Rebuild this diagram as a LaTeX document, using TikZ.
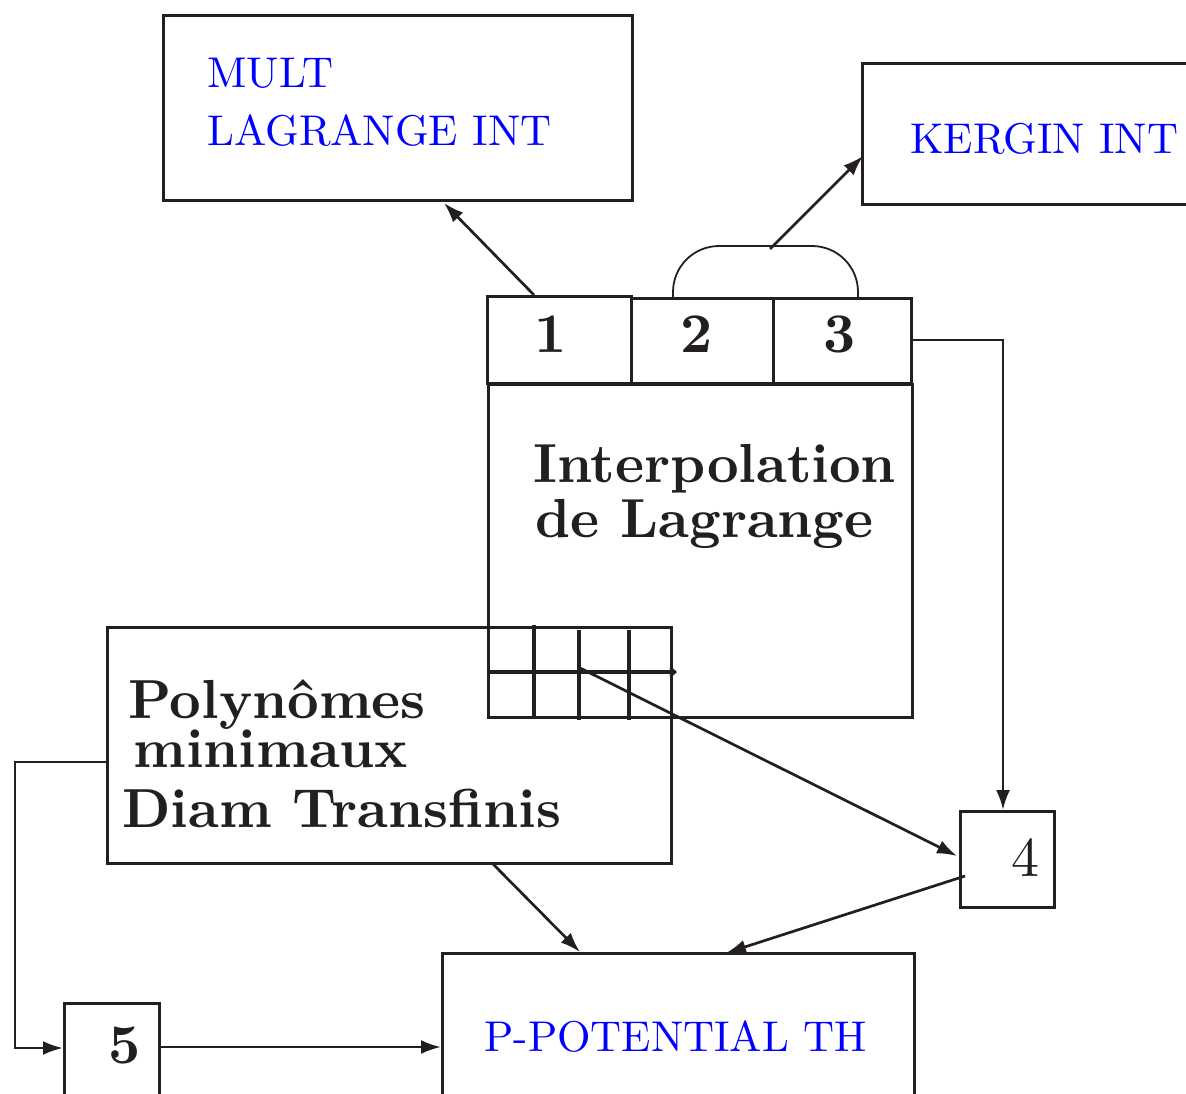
\documentclass[tikz,border=0pt]{standalone}
\usepackage{fontspec}
\setmainfont{lmroman10}[Extension=.otf,UprightFont=*-regular,BoldFont=*-bold]
\usetikzlibrary{arrows.meta,calc}
\definecolor{ink}{RGB}{35,31,32}
\definecolor{lbl}{RGB}{0,0,255}

\begin{document}
\begin{tikzpicture}[x=0.5pt,y=-0.5pt,
  box/.style={draw=ink,line width=1.65pt,rectangle,inner sep=0pt,anchor=north west},
  conn/.style={draw=ink,line width=1.35pt,-{Latex[length=10pt,width=7pt]}},
  gridline/.style={draw=ink,line width=1.6pt},
  bluetext/.style={text=lbl,anchor=base west,inner sep=0pt,font=\fontsize{21.5}{26}\selectfont},
  boldtext/.style={text=ink,anchor=base west,inner sep=0pt,font=\fontsize{27.5}{32}\selectfont\bfseries},
  numtext/.style={text=ink,anchor=base,inner sep=0pt,font=\fontsize{28}{32}\selectfont\bfseries},
]
\useasboundingbox (0,0) rectangle (1186,1093);

% ---- boxes ----
\node[box,minimum width=234.5pt,minimum height=92.5pt] (mult) at (162,14) {};
\node[box,minimum width=169.5pt,minimum height=70.5pt] (kergin) at (861,62) {};
\node[box,minimum width=212pt,minimum height=166.5pt] (lag) at (487,383) {};
\node[box,minimum width=72pt,minimum height=43.5pt] (c1) at (486,295) {};
\node[box,minimum width=71pt,minimum height=42.5pt] (c2) at (630,297) {};
\node[box,minimum width=69pt,minimum height=42.5pt] (c3) at (772,297) {};
\node[box,minimum width=282pt,minimum height=118pt] (poly) at (106,626) {};
\node[box,minimum width=47pt,minimum height=48pt] (b4) at (959,810) {};
\node[box,minimum width=47.5pt,minimum height=54pt] (b5) at (63,1002) {};
\node[box,minimum width=236pt,minimum height=79pt] (ppot) at (441,952) {};

% ---- labels ----
\node[bluetext] (t1) at (207,87) {MULT};
\node[bluetext] (t2) at (207,145) {LAGRANGE INT};
\node[bluetext] (t3) at (910,153) {KERGIN INT};
\node[bluetext] (t4) at (484,1051) {P-POTENTIAL TH};
\node[boldtext] (t5) at (533,482) {Interpolation};
\node[boldtext] (t6) at (535,537) {de Lagrange};
\node[boldtext] (t7) at (128,718) {Polynômes};
\node[boldtext] (t8) at (133,767) {minimaux};
\node[boldtext] (t9) at (122,827) {Diam Transfinis};
\node[numtext] (n1) at (551,352) {1};
\node[numtext] (n2) at (697,352) {2};
\node[numtext] (n3) at (840,352) {3};
\node[numtext,font=\fontsize{28}{32}\selectfont] (n4) at (1025,876) {4};
\node[numtext] (n5) at (125,1063) {5};

% ---- grid inside the overlap ----
\draw[gridline] (534,625) -- (534,717);
\draw[gridline] (579,630) -- (579,720);
\draw[gridline] (629,630) -- (629,720);
\draw[gridline,-{Straight Barb[length=2.5pt,width=4.5pt,line width=1.2pt]}] (487,672) -- (677,672);

% ---- bracket over cells 2 and 3 ----
\coordinate (arcL) at (673,297);
\coordinate (arcR) at (858,297);
\coordinate (arcTop) at (770,249);
\draw[ink,line width=0.9pt,rounded corners=23pt] (arcL) -- (673,246) -- (858,246) -- (arcR);

% ---- connector ends ----
\coordinate (c1top) at (534,295);
\coordinate (multin) at (444,203);
\coordinate (kerginin) at (863,156);
\coordinate (c3out) at (910,340);
\coordinate (b4top) at (1003,810);
\coordinate (gridpt) at (580,668);
\coordinate (b4in) at (957,856);
\coordinate (b4out) at (965,876);
\coordinate (ppotinA) at (726,953);
\coordinate (polyout) at (492,863);
\coordinate (ppotinB) at (580,952);
\coordinate (polyleft) at (106,762);
\coordinate (b5in) at (63,1048);
\coordinate (b5out) at (158,1047);
\coordinate (ppotinC) at (441,1047);

% ---- connectors ----
\draw[conn] (c1top) -- (multin);
\draw[conn] (arcTop) -- (kerginin);
\draw[conn] (c3out) -| (b4top);
\draw[conn] (gridpt) -- (b4in);
\draw[conn] (b4out) -- (ppotinA);
\draw[conn] (polyout) -- (ppotinB);
\draw[conn] (polyleft) -- (15,762) |- (b5in);
\draw[conn] (b5out) -- (ppotinC);
\end{tikzpicture}
\end{document}
